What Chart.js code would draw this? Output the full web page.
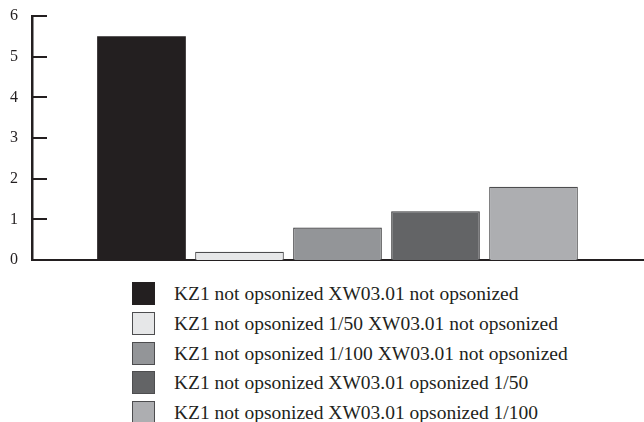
<!DOCTYPE html>
<html>
<head>
<meta charset="utf-8">
<script src="https://cdn.jsdelivr.net/npm/chart.js@4.4.1/dist/chart.umd.min.js"></script>
<style>
  html, body { margin: 0; padding: 0; background: #fff; overflow: hidden; }
  #wrap { position: relative; width: 644px; height: 272px; }
  #legend { position: absolute; left: 132px; top: 282px; font-family: "Liberation Serif", "DejaVu Serif", serif; font-size: 19.5px; color: #231f20; }
  .row { height: 29.75px; display: flex; align-items: flex-start; }
  .sw { width: 23px; height: 23px; box-sizing: border-box; border: 1.5px solid #4d4d4f; margin-right: 19px; }
  .lbl { line-height: 23px; }
</style>
</head>
<body>
<div id="wrap"><canvas id="c"></canvas></div>
<div id="legend"></div>
<script>
// series names / values / colours
const seriesNames = [
  "KZ1 not opsonized XW03.01 not opsonized",
  "KZ1 not opsonized 1/50 XW03.01 not opsonized",
  "KZ1 not opsonized 1/100 XW03.01 not opsonized",
  "KZ1 not opsonized XW03.01 opsonized 1/50",
  "KZ1 not opsonized XW03.01 opsonized 1/100"
];
const seriesValues = [5.5, 0.2, 0.8, 1.2, 1.8];
const seriesColors = ["#231f20", "#e6e7e8", "#939598", "#636466", "#adaeb1"];
const borderColors = ["#231f20", "#4d4d4f", "#3a3a3c", "#3a3a3c", "#4d4d4f"];
const yTicks = [0, 1, 2, 3, 4, 5, 6];

const axisColor = "#231f20";

// inward tick marks on the y axis
const innerTicks = {
  id: 'innerTicks',
  afterDraw(chart) {
    const y = chart.scales.y, ctx = chart.ctx;
    const left = chart.chartArea.left;
    ctx.save();
    ctx.strokeStyle = axisColor; ctx.lineWidth = 2;
    yTicks.forEach(v => {
      if (v === 0) return;
      const py = Math.round(y.getPixelForValue(v));
      ctx.beginPath(); ctx.moveTo(left, py); ctx.lineTo(left + 15, py); ctx.stroke();
    });
    ctx.restore();
  }
};

const datasets = seriesNames.map((n, i) => ({
  label: n,
  data: [seriesValues[i]],
  backgroundColor: seriesColors[i],
  borderColor: borderColors[i],
  borderWidth: i === 0 ? 0 : 1.2,
  categoryPercentage: 0.802,
  barPercentage: 0.905
}));

new Chart(document.getElementById('c'), {
  type: 'bar',
  data: { labels: [''], datasets: datasets },
  options: {
    responsive: true, maintainAspectRatio: false, animation: false,
    layout: { padding: { top: 16, right: 1, left: 0, bottom: 0 } },
    plugins: { legend: { display: false }, tooltip: { enabled: false } },
    scales: {
      x: {
        grid: { display: false, drawTicks: false },
        border: { display: true, color: axisColor, width: 2 },
        ticks: { display: false },
        afterFit: s => { s.height = 12; s.paddingLeft = 0; s.paddingRight = 0; }
      },
      y: {
        min: 0, max: 6,
        afterBuildTicks: s => { s.ticks = yTicks.map(v => ({ value: v })); },
        grid: { display: false, drawTicks: false },
        border: { display: true, color: axisColor, width: 2.5 },
        ticks: { padding: 14, color: axisColor, font: { family: "Liberation Serif", size: 16 } },
        afterFit: s => { s.width = 32; s.paddingTop = 0; s.paddingBottom = 0; }
      }
    }
  },
  plugins: [innerTicks]
});

// legend
const lg = document.getElementById('legend');
seriesNames.forEach((n, i) => {
  const r = document.createElement('div'); r.className = 'row';
  const sw = document.createElement('div'); sw.className = 'sw';
  sw.style.background = seriesColors[i];
  if (i === 0) sw.style.borderColor = seriesColors[0];
  const t = document.createElement('div'); t.className = 'lbl'; t.textContent = n;
  r.appendChild(sw); r.appendChild(t); lg.appendChild(r);
});
</script>
</body>
</html>
